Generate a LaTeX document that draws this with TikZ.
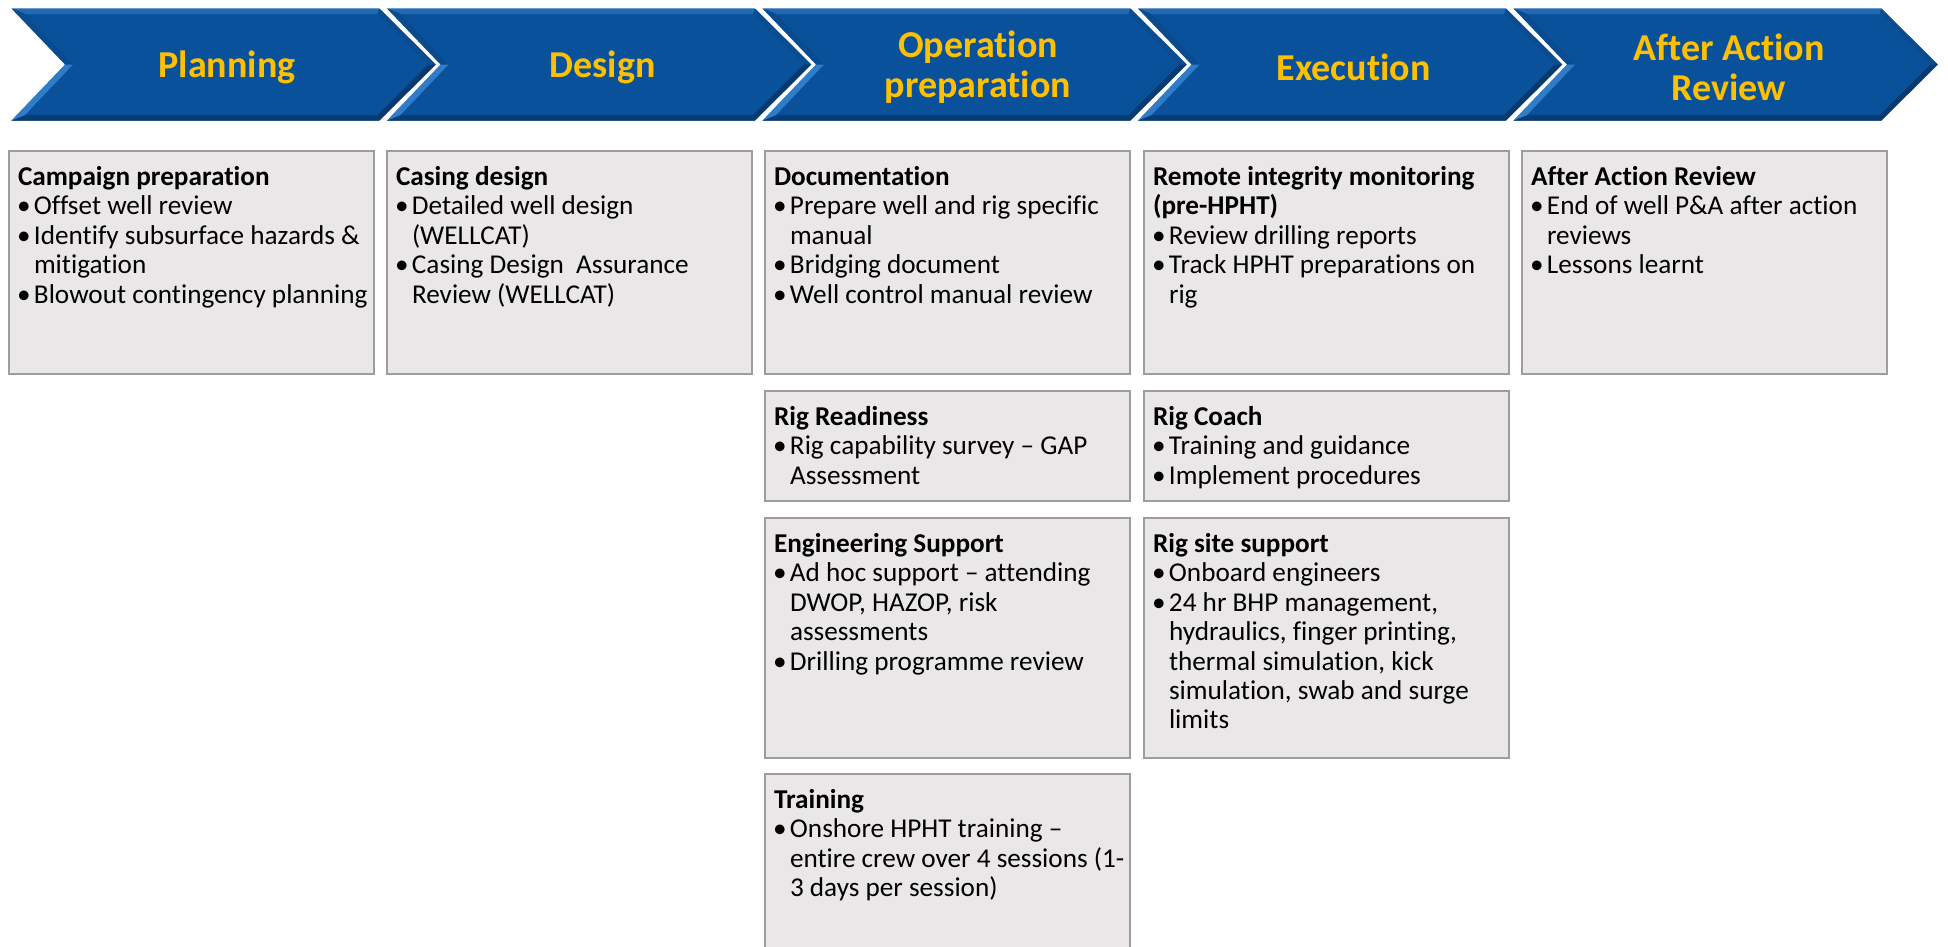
\documentclass[tikz,border=0pt]{standalone}
\usepackage{fontspec}
\setmainfont{Carlito}[Ligatures={TeX,NoCommon}]
\definecolor{chevbase}{HTML}{09529B}
\definecolor{chevtop}{HTML}{2169B3}
\definecolor{chevbot}{HTML}{053C74}
\definecolor{chevul}{HTML}{0A4A8E}
\definecolor{chevll}{HTML}{2F7CC8}
\definecolor{chevur}{HTML}{0A4C90}
\definecolor{chevlr}{HTML}{053A70}
\definecolor{gold}{HTML}{FFC000}
\definecolor{boxfill}{HTML}{EAE7E8}
\definecolor{boxline}{HTML}{A19C9C}
\newcommand\bul{\makebox[16pt][l]{\hspace{-1pt}\textbullet}}
\newcommand\ind{\makebox[16pt]{}}
\newcommand\fst{\rule{0pt}{22pt}}
\begin{document}
\begin{tikzpicture}[x=1pt,y=-1pt,
  box/.style={draw=boxline, fill=boxfill, line width=2pt, rectangle, anchor=north west, inner sep=0pt, outer sep=0pt, minimum width=365pt},
  txt/.style={anchor=north west, inner sep=0pt, outer sep=0pt, align=left, font=\fontsize{27.2}{29.4}\selectfont, text=black},
  chevtxt/.style={inner sep=0pt, align=center, font=\fontsize{38}{40}\selectfont\bfseries, text=gold}
]
\useasboundingbox (0,0) rectangle (1948,946);
\fill[white] (0,0) rectangle (1948,946);

% chevrons
\foreach \i/\lab in {0/Planning, 1/Design, 2/{Operation\\preparation}, 3/Execution, 4/{After Action\\Review}}{
  \pgfmathsetmacro\L{8+375.5*\i}
  \pgfmathsetmacro\R{\L+372}
  \pgfmathsetmacro\T{\R+58}
  \pgfmathsetmacro\N{\L+55}
  \pgfmathsetmacro\Li{\L+17}
  \pgfmathsetmacro\Ri{\R-2.5}
  \pgfmathsetmacro\Ti{\T-10}
  \pgfmathsetmacro\Ni{\N+10}
  \fill[chevbase] (\L,7) -- (\R,7) -- (\T,64.5) -- (\R,122) -- (\L,122) -- (\N,64.5) -- cycle;
  \fill[chevtop] (\L,7) -- (\R,7) -- (\Ri,14) -- (\Li,14) -- cycle;
  \fill[chevbot] (\L,122) -- (\R,122) -- (\Ri,115) -- (\Li,115) -- cycle;
  \fill[chevul] (\L,7) -- (\N,64.5) -- (\Ni,64.5) -- (\Li,14) -- cycle;
  \fill[chevll] (\N,64.5) -- (\L,122) -- (\Li,115) -- (\Ni,64.5) -- cycle;
  \fill[chevur] (\R,7) -- (\T,64.5) -- (\Ti,64.5) -- (\Ri,14) -- cycle;
  \fill[chevlr] (\T,64.5) -- (\R,122) -- (\Ri,115) -- (\Ti,64.5) -- cycle;
  \draw[white, line width=2.5pt, line join=miter] (\L,7) -- (\R,7) -- (\T,64.5) -- (\R,122) -- (\L,122) -- (\N,64.5) -- cycle;
  \pgfmathsetmacro\C{\L+219}
  \node[chevtxt] (c\i) at (\C,67) {\lab};
}

% boxes
\begin{scope}
\clip (0,0) rectangle (1948,946);
\node[box, minimum height=223pt] (b1) at (9,151) {};
\node[box, minimum height=223pt] (b2) at (387,151) {};
\node[box, minimum height=223pt] (b3a) at (765,151) {};
\node[box, minimum height=223pt] (b4a) at (1144,151) {};
\node[box, minimum height=223pt] (b5) at (1522,151) {};
\node[box, minimum height=110pt] (b3b) at (765,391) {};
\node[box, minimum height=110pt] (b4b) at (1144,391) {};
\node[box, minimum height=240pt] (b3c) at (765,518) {};
\node[box, minimum height=240pt] (b4c) at (1144,518) {};
\node[box, minimum height=200pt] (b3d) at (765,774) {};
\end{scope}

\node[txt] (t1) at ([shift={(9,12.5)}]b1.north west) {\fst\textbf{Campaign preparation}\\
\bul Offset well review\\
\bul Identify subsurface hazards \&\\
\ind mitigation\\
\bul Blowout contingency planning};

\node[txt] (t2) at ([shift={(9,12.5)}]b2.north west) {\fst\textbf{Casing design}\\
\bul Detailed well design\\
\ind (WELLCAT)\\
\bul Casing Design\ \ Assurance\\
\ind Review (WELLCAT)};

\node[txt] (t3a) at ([shift={(9,12.5)}]b3a.north west) {\fst\textbf{Documentation}\\
\bul Prepare well and rig specific\\
\ind manual\\
\bul Bridging document\\
\bul Well control manual review};

\node[txt] (t4a) at ([shift={(9,12.5)}]b4a.north west) {\fst\textbf{Remote integrity monitoring}\\
\textbf{(pre-HPHT)}\\
\bul Review drilling reports\\
\bul Track HPHT preparations on\\
\ind rig};

\node[txt] (t5) at ([shift={(9,12.5)}]b5.north west) {\fst\textbf{After Action Review}\\
\bul End of well P\&A after action\\
\ind reviews\\
\bul Lessons learnt};

\node[txt] (t3b) at ([shift={(9,12.5)}]b3b.north west) {\fst\textbf{Rig Readiness}\\
\bul Rig capability survey – GAP\\
\ind Assessment};

\node[txt] (t4b) at ([shift={(9,12.5)}]b4b.north west) {\fst\textbf{Rig Coach}\\
\bul Training and guidance\\
\bul Implement procedures};

\node[txt] (t3c) at ([shift={(9,12.5)}]b3c.north west) {\fst\textbf{Engineering Support}\\
\bul Ad hoc support – attending\\
\ind DWOP, HAZOP, risk\\
\ind assessments\\
\bul Drilling programme review};

\node[txt] (t4c) at ([shift={(9,12.5)}]b4c.north west) {\fst\textbf{Rig site support}\\
\bul Onboard engineers\\
\bul 24 hr BHP management,\\
\ind hydraulics, finger printing,\\
\ind thermal simulation, kick\\
\ind simulation, swab and surge\\
\ind limits};

\node[txt] (t3d) at ([shift={(9,12.5)}]b3d.north west) {\fst\textbf{Training}\\
\bul Onshore HPHT training –\\
\ind entire crew over 4 sessions (1-\\
\ind 3 days per session)};
\end{tikzpicture}
\end{document}
